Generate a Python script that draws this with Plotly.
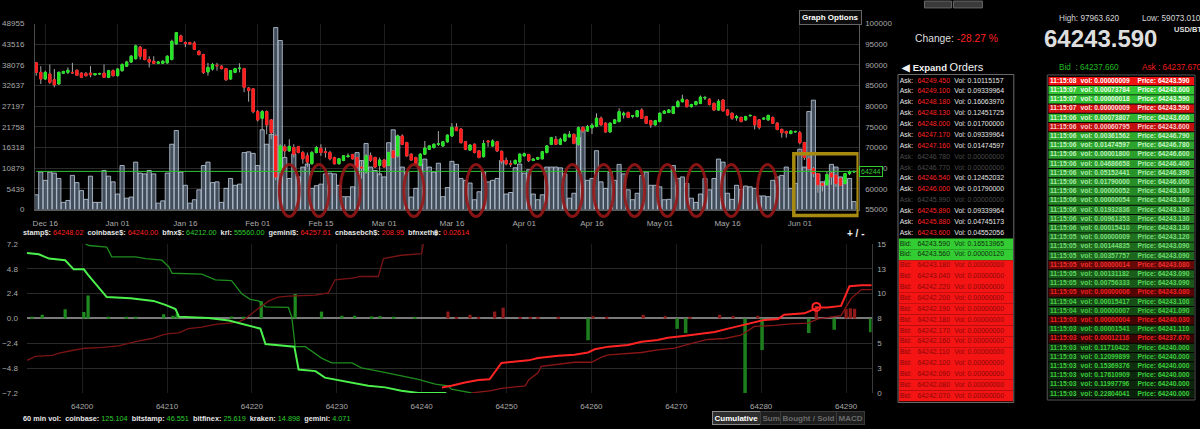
import pandas as pd
import plotly.graph_objects as go

W, H = 1200, 429
FONT = "Liberation Sans, Arial, sans-serif"


def X(p):
    return p / W


def Y(p):
    return 1 - p / H


# ---------------- top chart: daily candles (thousand USD) + volume (thousand) ----------------
start_day = "2021-12-14"
open_k = [90.5, 88.2, 86.6, 87.8, 86.4, 85.4, 88.0, 88.2, 88.2, 88.7, 88.0, 87.9, 88.0, 87.6, 87.8, 88.0, 87.0, 88.6, 87.4, 88.6,
          89.7, 90.7, 91.5, 94.3, 93.7, 91.3, 90.9, 90.4, 90.4, 90.5, 91.3, 95.1, 97.0, 95.4, 95.4, 95.3, 93.3, 92.5, 88.3, 89.0,
          89.9, 89.7, 89.1, 86.6, 88.2, 89.1, 89.1, 84.4, 84.2, 78.7, 77.1, 78.7, 76.7, 72.8, 64.1, 70.2, 69.2, 70.0, 70.2, 68.8,
          68.0, 66.1, 68.8, 69.8, 69.0, 68.8, 67.6, 66.1, 66.9, 67.8, 68.3, 67.6, 65.3, 64.1, 68.0, 67.6, 65.7, 67.0, 65.7, 69.2,
          68.0, 72.8, 71.2, 68.4, 67.6, 65.7, 68.4, 69.6, 70.0, 70.8, 70.4, 71.4, 72.8, 74.9, 74.5, 71.4, 69.4, 70.8, 69.2, 67.8,
          71.6, 70.4, 71.4, 69.1, 66.9, 66.1, 66.1, 66.5, 68.0, 68.3, 66.9, 67.2, 67.3, 68.8, 70.8, 72.0, 70.8, 71.6, 72.6, 73.2,
          70.8, 74.9, 74.0, 74.8, 75.1, 77.1, 75.9, 73.8, 75.9, 76.3, 77.9, 78.5, 77.6, 77.5, 79.1, 77.5, 76.5, 75.5, 76.3, 78.3,
          78.5, 78.3, 79.9, 81.1, 81.5, 79.9, 80.4, 80.7, 82.0, 81.7, 80.7, 79.1, 81.5, 79.1, 78.3, 77.2, 77.3, 76.7, 77.7, 77.5,
          76.7, 76.9, 76.7, 77.3, 75.9, 74.4, 73.9, 73.4, 73.8, 73.6, 71.2, 67.3, 64.9, 63.7, 61.3, 61.0, 63.8, 63.3, 62.5, 61.3,
          63.7, 64.1]
high_k = [90.7, 89.7, 88.6, 90.1, 89.0, 88.4, 88.6, 89.4, 90.5, 88.9, 88.2, 88.3, 89.7, 88.0, 88.1, 90.1, 88.8, 88.9, 89.2, 90.4,
          91.0, 92.4, 94.9, 94.6, 93.9, 92.1, 92.1, 90.9, 91.1, 92.3, 96.1, 97.96, 97.3, 95.7, 95.6, 95.7, 93.5, 92.7, 90.5, 90.5,
          90.5, 89.9, 89.3, 88.8, 89.3, 90.4, 89.3, 84.6, 84.4, 79.1, 79.1, 79.0, 76.9, 73.2, 70.8, 70.8, 72.0, 70.8, 70.4, 69.2,
          68.8, 69.2, 70.4, 70.8, 70.0, 69.2, 67.8, 67.5, 68.2, 68.6, 68.5, 67.8, 66.9, 68.4, 68.8, 67.8, 67.6, 67.2, 69.0, 69.4,
          73.2, 73.2, 71.4, 68.6, 67.8, 68.6, 71.6, 70.6, 71.0, 74.0, 71.6, 73.2, 75.9, 75.9, 74.7, 71.6, 70.8, 71.0, 69.4, 71.8,
          71.8, 72.0, 71.6, 69.3, 67.6, 66.9, 67.1, 68.6, 68.8, 68.5, 67.4, 67.8, 69.2, 70.6, 72.6, 72.8, 72.4, 73.4, 74.0, 73.4,
          75.1, 75.1, 75.5, 75.9, 78.3, 77.5, 76.1, 76.1, 76.9, 79.5, 78.7, 78.7, 77.9, 79.1, 79.5, 77.7, 76.7, 76.7, 78.5, 79.1,
          79.3, 80.1, 81.5, 82.8, 81.7, 80.6, 81.3, 82.6, 82.5, 81.9, 80.9, 81.7, 81.7, 79.3, 78.5, 77.9, 77.5, 77.7, 77.9, 77.7,
          76.9, 77.3, 77.9, 77.5, 76.1, 74.6, 74.1, 74.2, 74.1, 74.0, 71.4, 68.0, 65.3, 63.9, 61.7, 64.1, 64.1, 63.5, 62.7, 63.9,
          64.5, 64.3]
low_k = [87.4, 85.4, 86.4, 85.4, 84.6, 85.2, 87.8, 87.8, 87.8, 87.4, 86.8, 87.2, 87.0, 87.5, 87.6, 86.9, 86.8, 87.2, 87.2, 88.4,
         89.5, 90.5, 91.3, 91.3, 91.1, 89.4, 90.2, 90.2, 90.2, 90.3, 91.1, 94.9, 95.5, 94.3, 94.9, 93.6, 92.3, 87.8, 87.4, 88.6,
         88.6, 88.9, 86.2, 86.4, 88.0, 88.2, 83.4, 81.1, 78.3, 76.3, 74.4, 73.2, 72.0, 62.1, 62.9, 67.6, 69.0, 67.6, 68.6, 66.1,
         65.3, 65.9, 68.6, 68.0, 67.6, 66.9, 65.9, 65.9, 66.7, 67.6, 67.1, 64.9, 62.5, 63.7, 66.5, 65.1, 63.3, 65.1, 65.5, 67.4,
         67.6, 70.6, 67.8, 66.8, 65.9, 65.5, 68.2, 69.4, 69.8, 70.4, 70.2, 71.2, 72.6, 74.0, 71.0, 69.4, 69.2, 68.6, 67.4, 67.6,
         70.2, 70.2, 69.0, 66.1, 65.7, 65.3, 65.9, 66.3, 67.9, 66.5, 66.7, 67.0, 67.1, 68.6, 70.6, 70.6, 70.6, 71.4, 72.4, 70.8,
         70.4, 73.6, 73.8, 73.3, 74.9, 75.3, 73.6, 73.6, 75.7, 76.1, 77.0, 77.1, 77.1, 77.3, 76.9, 75.7, 74.8, 75.3, 76.1, 78.1,
         78.3, 78.1, 79.7, 80.9, 79.7, 79.7, 80.2, 80.5, 81.5, 80.2, 78.9, 78.9, 78.7, 77.7, 76.7, 76.5, 76.1, 76.5, 77.5, 74.4,
         74.4, 76.7, 76.5, 75.7, 74.2, 72.4, 72.4, 73.2, 73.6, 70.8, 67.0, 64.5, 62.9, 59.07, 59.4, 60.8, 61.0, 60.5, 60.7, 61.1,
         63.3, 64.0]
close_k = [88.2, 86.6, 88.2, 85.8, 85.2, 88.2, 88.4, 88.7, 88.1, 87.5, 87.0, 87.4, 87.6, 87.9, 87.9, 87.0, 88.6, 87.4, 89.0, 90.1,
           90.7, 92.1, 94.6, 92.1, 91.3, 90.7, 90.4, 90.7, 90.9, 92.1, 95.7, 97.8, 95.7, 95.2, 95.1, 93.8, 92.5, 88.2, 89.4, 90.1,
           89.8, 89.1, 86.4, 88.6, 89.1, 89.2, 84.6, 83.8, 78.7, 76.7, 78.7, 75.5, 73.6, 62.9, 70.4, 69.2, 70.3, 68.4, 68.8, 67.3,
           66.5, 68.8, 70.0, 68.8, 68.8, 67.3, 66.1, 67.3, 68.0, 68.0, 67.3, 65.3, 65.1, 68.0, 66.9, 65.3, 67.0, 65.3, 68.8, 67.6,
           72.8, 70.8, 68.0, 67.0, 66.1, 68.4, 69.9, 70.4, 70.8, 70.9, 71.4, 73.0, 74.9, 74.1, 71.2, 69.6, 70.6, 68.8, 67.6, 71.0,
           71.4, 71.6, 69.2, 66.7, 66.1, 66.0, 66.9, 68.4, 68.5, 66.9, 67.2, 67.6, 69.0, 70.4, 72.4, 70.8, 72.0, 73.2, 73.2, 71.0,
           74.8, 74.0, 75.1, 75.4, 77.1, 75.5, 73.8, 75.9, 76.7, 78.7, 78.3, 77.3, 77.7, 78.9, 77.1, 75.9, 75.5, 76.5, 78.3, 78.8,
           79.1, 79.9, 81.1, 81.7, 79.9, 80.4, 81.1, 82.2, 82.1, 80.4, 79.1, 81.2, 78.9, 77.9, 77.1, 77.5, 76.3, 77.5, 77.8, 75.5,
           74.9, 77.1, 77.8, 75.9, 74.4, 73.6, 73.5, 74.0, 73.9, 71.2, 67.6, 64.9, 63.7, 61.0, 60.9, 63.5, 62.9, 61.3, 60.9, 63.7,
           64.1, 64.244]
volume_k = [3.9, 9.9, 7.7, 9.9, 9.6, 8.2, 1.9, 2.4, 9.0, 7.1, 5.0, 2.7, 8.8, 1.9, 1.9, 10.3, 8.8, 7.3, 4.1, 11.6,
            3.0, 3.3, 12.5, 9.6, 9.4, 10.3, 9.4, 1.7, 2.3, 9.6, 17.2, 20.8, 9.9, 6.4, 1.7, 2.6, 5.2, 11.6, 12.5, 7.1,
            7.3, 1.9, 5.6, 8.2, 6.4, 6.7, 15.0, 15.2, 14.8, 11.6, 21.0, 17.2, 19.8, 47.9, 44.5, 13.7, 8.2, 14.6, 8.6, 11.2,
            12.0, 5.6, 6.3, 6.7, 9.4, 9.6, 9.4, 6.4, 3.4, 3.4, 6.0, 15.0, 12.9, 17.4, 11.2, 10.3, 9.4, 8.6, 17.6, 21.0,
            19.3, 11.2, 9.9, 3.3, 5.6, 12.0, 13.3, 11.2, 9.9, 12.2, 3.4, 5.8, 12.7, 11.9, 8.2, 7.7, 7.0, 2.6, 4.7, 9.9,
            7.3, 7.7, 8.2, 12.9, 4.1, 4.5, 11.0, 12.0, 9.6, 10.5, 4.1, 2.6, 3.9, 11.2, 11.2, 11.2, 11.0, 9.4, 3.0, 4.3,
            19.0, 21.0, 7.7, 8.2, 15.5, 7.3, 5.6, 9.9, 7.7, 11.9, 9.4, 5.2, 2.6, 4.3, 9.0, 9.9, 6.4, 6.4, 6.0, 2.6,
            2.7, 11.6, 8.2, 8.6, 6.9, 3.0, 1.9, 4.1, 8.2, 5.2, 8.2, 13.3, 12.5, 4.3, 2.7, 6.4, 5.3, 6.2, 6.0, 5.6,
            3.6, 3.6, 3.4, 7.7, 8.6, 9.0, 11.2, 5.6, 6.9, 15.9, 11.2, 25.8, 28.8, 9.4, 7.3, 7.7, 11.9, 11.2, 8.6, 7.7,
            8.2, 2.1]

date_ticks = ["2021-12-16", "2022-01-01", "2022-01-16", "2022-02-01", "2022-02-15", "2022-03-01",
              "2022-03-16", "2022-04-01", "2022-04-16", "2022-05-01", "2022-05-16", "2022-06-01"]
date_labels = ["Dec 16", "Jan 01", "Jan 16", "Feb 01", "Feb 15", "Mar 01",
               "Mar 16", "Apr 01", "Apr 16", "May 01", "May 16", "Jun 01"]
vol_axis_top = 48955
price_axis = [55000, 100000]
last_price_line = 64244

# hand-drawn marks on the screenshot
low_volume_days = ["2022-02-08 00:00", "2022-02-14 14:00", "2022-02-21 12:00", "2022-03-07 14:00",
                   "2022-03-21 08:00", "2022-04-03 20:00", "2022-04-11 16:00", "2022-04-18 14:00",
                   "2022-04-25 10:00", "2022-05-02 16:00", "2022-05-09 02:00", "2022-05-16 20:00",
                   "2022-05-24 20:00"]
box_days = ["2022-05-30 16:00", "2022-06-13 22:00"]

# ---------------- bottom chart: depth ----------------
bid_cum_x = [64193.5, 64194.9, 64196.1, 64198.0, 64199.0, 64200.2, 64200.7, 64202.9, 64205.7, 64207.5, 64208.4,
             64209.8, 64210.2, 64211.0, 64211.4, 64213.3, 64214.9, 64217.3, 64218.8, 64221.0, 64221.6, 64223.1,
             64225.0, 64225.5, 64227.5, 64228.6, 64230.6, 64232.2, 64233.7, 64235.7, 64237.6, 64239.6, 64242.9]
bid_cum_y = [6.32, 6.19, 5.78, 5.62, 4.74, 4.74, 4.21, 2.06, 1.94, 1.78, 1.69, 1.31, 1.18, 0.90, 0.17, 0.11, 0.05,
             -0.20, -0.51, -0.99, -2.47, -2.57, -2.73, -4.93, -5.09, -5.72, -6.03, -6.35, -6.51, -6.66, -6.98, -7.2, -7.2]
bid_sum_x = [64200.4, 64200.8, 64202.9, 64203.5, 64206.3, 64207.5, 64209.4, 64210.2, 64210.6, 64214.1, 64215.7,
             64217.6, 64218.8, 64219.8, 64220.8, 64221.6, 64224.3, 64224.7, 64225.1, 64226.3, 64228.2, 64229.4,
             64231.8, 64232.9, 64234.9, 64237.6, 64239.6, 64241.6, 64243.1, 64243.5, 64245.9]
bid_sum_y = [7.2, 7.04, 6.88, 5.94, 5.94, 5.78, 5.62, 4.99, 4.36, 4.27, 3.73, 3.64, 2.38, 1.84, 1.69, 1.12, 1.06,
             0.11, -2.73, -2.73, -3.83, -4.30, -4.30, -4.77, -5.09, -5.56, -5.88, -6.35, -6.51, -6.83, -7.2]
ask_sum_left_x = [64193.5, 64194.5, 64196.5, 64197.3, 64198.8, 64200.4, 64202.4, 64204.3, 64206.3, 64208.2, 64209.4,
                  64210.2, 64211.4, 64212.5, 64214.1, 64215.7, 64217.3, 64218.4, 64219.2, 64220.4, 64222.0, 64223.1,
                  64224.3, 64225.9, 64227.5, 64229.0, 64229.8, 64231.8, 64232.9, 64234.9, 64235.5, 64237.6, 64240.0,
                  64240.2]
ask_sum_left_y = [-4.05, -3.67, -3.58, -3.36, -3.10, -2.88, -2.79, -2.66, -2.25, -1.94, -1.62, -1.47, -1.40, -0.99,
                  -0.84, -0.58, -0.46, -0.36, -0.05, 0.74, 1.69, 2.06, 2.16, 2.22, 2.25, 2.47, 3.73, 3.89, 4.05, 4.05,
                  5.78, 6.10, 6.25, 7.2]
ask_cum_x = [64242.4, 64243.5, 64245.1, 64246.7, 64248.0, 64249.4, 64250.2, 64252.6, 64253.7, 64256.1, 64258.0,
             64259.6, 64260.4, 64262.0, 64264.3, 64265.9, 64267.8, 64269.0, 64270.6, 64272.9, 64274.5, 64276.1,
             64277.6, 64279.2, 64280.4, 64282.0, 64282.7, 64283.9, 64285.1, 64286.7, 64287.8, 64289.4, 64290.4,
             64291.8, 64293.1]
ask_cum_y = [0.56, 0.72, 1.05, 1.31, 1.38, 3.02, 3.09, 3.28, 3.51, 3.74, 3.84, 4.07, 4.40, 4.66, 4.82, 5.15, 5.32,
             5.55, 5.71, 5.97, 6.14, 6.47, 6.79, 7.12, 7.35, 7.45, 7.88, 7.94, 8.01, 8.60, 8.60, 8.76, 10.73, 10.83,
             10.83]
ask_sum_x = [64245.9, 64248.2, 64249.4, 64252.2, 64252.6, 64253.7, 64254.1, 64256.1, 64258.0, 64260.0, 64261.2,
             64262.0, 64265.9, 64267.8, 64269.8, 64271.8, 64273.7, 64275.7, 64277.6, 64279.2, 64281.6, 64283.5,
             64284.7, 64285.5, 64286.7, 64288.2, 64289.4, 64290.6, 64291.8, 64293.1]
ask_sum_y = [0, 0.23, 0.46, 0.72, 1.31, 2.03, 2.69, 2.86, 3.09, 3.09, 3.61, 3.84, 4.07, 4.33, 4.50, 4.99, 5.38,
             5.48, 5.81, 6.70, 6.79, 6.96, 6.96, 7.02, 7.45, 7.61, 7.78, 9.52, 10.40, 10.40]
buy_bar_x = [64194.1, 64195.3, 64198.0, 64200.2, 64200.7, 64203.1, 64205.2, 64206.3, 64209.6, 64210.7, 64211.2,
             64217.6, 64219.0, 64221.1, 64225.1, 64228.2, 64230.6, 64232.1, 64234.1, 64235.1, 64236.7, 64239.2]
buy_bar_y = [0.1, 0.35, 0.88, 0.63, 2.21, 0.06, 0.13, 0.1, 0.41, 0.25, 0.47, 0.19, 0.16, 1.67, 2.36, 0.66, 0.25,
             0.25, 0.19, 0.22, 0.16, 0.13]
sold_bar_x = [64259.6, 64270.1, 64271.1, 64278.1, 64280.1, 64285.6, 64288.6, 64292.9]
sold_bar_y = [-2.20, -1.05, -1.48, -7.5, -3.18, -1.48, -1.15, -1.38]
ask_bar_x = [64243.1, 64244.1, 64245.7, 64246.7, 64248.6, 64249.6, 64251.6, 64252.8, 64253.7, 64256.1, 64260.2,
             64261.8, 64266.1, 64268.7, 64271.6, 64275.1, 64276.7, 64279.6, 64286.5, 64290.0, 64290.5, 64291.0]
ask_bar_y = [0.69, 0.16, 0.36, 0.1, 0.69, 1.08, 0.13, 0.1, 0.16, 0.16, 0.23, 0.16, 0.36, 0.23, 0.16, 0.36, 0.23,
             0.26, 1.25, 0.92, 1.02, 0.98]
hover_point = [64286.5, 8.66]

# ---------------- order book ----------------
ask_prices = [64249.450, 64249.100, 64248.180, 64248.130, 64248.000, 64247.170, 64247.160, 64246.780,
              64246.770, 64246.540, 64246.000, 64245.990, 64245.890, 64245.880, 64243.600]
ask_vols = [0.10115157, 0.09339964, 0.16063970, 0.12451725, 0.01700000, 0.09339964, 0.01474597, 0.0,
            0.0, 0.12452032, 0.01790000, 0.0, 0.09339964, 0.04745173, 0.04552056]
bid_prices = [64243.590, 64243.560, 64243.180, 64243.040, 64242.220, 64242.200, 64242.190, 64242.180,
              64242.170, 64242.160, 64242.110, 64242.100, 64242.090, 64242.080, 64242.070]
bid_vols = [0.16513965, 0.00000120] + [0.0] * 13

# ---------------- trades ----------------
trade_times = ["11:15:08", "11:15:07", "11:15:07", "11:15:07", "11:15:06", "11:15:06", "11:15:06", "11:15:06",
               "11:15:06", "11:15:06", "11:15:06", "11:15:06", "11:15:06", "11:15:06", "11:15:06", "11:15:06",
               "11:15:06", "11:15:05", "11:15:05", "11:15:05", "11:15:05", "11:15:05", "11:15:05", "11:15:05",
               "11:15:04", "11:15:04", "11:15:03", "11:15:03", "11:15:03", "11:15:03", "11:15:03", "11:15:03",
               "11:15:03", "11:15:03", "11:15:03"]
trade_vols = [0.00000009, 0.00073784, 0.00000018, 0.00000009, 0.00073807, 0.00060795, 0.00361562, 0.01474597,
              0.00001800, 0.04686658, 0.05152441, 0.01790000, 0.00000052, 0.00000054, 0.01932836, 0.00961353,
              0.00015410, 0.00000009, 0.00144835, 0.00357757, 0.00000014, 0.00131182, 0.00756333, 0.00000006,
              0.00015417, 0.00000007, 0.00000004, 0.00001541, 0.00012116, 0.11710422, 0.12099899, 0.15369376,
              0.17610909, 0.11997796, 0.22804041]
trade_prices = [64243.590, 64243.600, 64243.590, 64243.590, 64243.600, 64243.600, 64246.790, 64246.780,
                64246.600, 64246.400, 64246.390, 64246.000, 64243.160, 64243.160, 64243.130, 64243.130,
                64243.130, 64243.120, 64243.090, 64243.090, 64243.080, 64243.090, 64243.090, 64243.080,
                64243.100, 64241.090, 64240.030, 64241.110, 64237.670, 64240.000, 64240.000, 64240.000,
                64240.000, 64240.000, 64240.000]
trade_sell = [1, 0, 0, 1, 0, 1, 0, 0, 0, 0, 0, 0, 0, 0, 0, 0, 0, 0, 0, 0, 1, 0, 0, 1, 0, 0, 1, 0, 1, 0, 0, 0, 0, 0, 0]

# ---------------- ticker texts ----------------
high_24h, low_24h = 97963.620, 59073.010
last_price = 64243.590
change_pct = -28.27
best_bid, best_ask = 64237.660, 64237.670
ex_names = ["stamp$", "coinbase$", "bfnx$", "krl", "gemini$", "cnbasebch$", "bfnxeth฿"]
ex_values = ["64248.02", "64240.00", "64212.00", "55560.00", "64257.61", "208.95", "0.02614"]
ex_up = [0, 0, 1, 1, 0, 0, 0]
vol60_names = ["coinbase", "bitstamp", "bitfinex", "kraken", "gemini"]
vol60_values = [125.104, 46.551, 25.619, 14.898, 4.071]
buttons = ["Cumulative", "Sum", "Bought / Sold", "MACD"]

UP, DN, WICK = "#22e622", "#ff1c1c", "#a8a8a8"
GREEN, RED = "#2ecc2e", "#ff2020"


def mix(a, b, t):
    ca = [int(a[i:i + 2], 16) for i in (1, 3, 5)]
    cb = [int(b[i:i + 2], 16) for i in (1, 3, 5)]
    return "rgb(%d,%d,%d)" % tuple(round(ca[k] + (cb[k] - ca[k]) * t) for k in range(3))


days = pd.date_range(start_day, periods=len(close_k), freq="D")
opens = [v * 1000 for v in open_k]
highs = [v * 1000 for v in high_k]
lows = [v * 1000 for v in low_k]
closes = [v * 1000 for v in close_k]
vols = [v * 1000 for v in volume_k]

fig = go.Figure()

fig.add_trace(go.Bar(x=days, y=vols, xaxis="x", yaxis="y",
                     marker=dict(color="rgba(120,140,162,0.55)",
                                 line=dict(color="rgba(190,205,222,0.8)", width=1)),
                     hoverinfo="skip"))
fig.add_trace(go.Candlestick(x=days, open=opens, high=highs, low=lows, close=closes,
                             xaxis="x", yaxis="y2", whiskerwidth=0,
                             increasing=dict(line=dict(color=WICK, width=1), fillcolor=WICK),
                             decreasing=dict(line=dict(color=WICK, width=1), fillcolor=WICK),
                             hoverinfo="skip"))
fig.add_trace(go.Candlestick(x=days, open=opens, close=closes,
                             high=[max(a, b) for a, b in zip(opens, closes)],
                             low=[min(a, b) for a, b in zip(opens, closes)],
                             xaxis="x", yaxis="y2", whiskerwidth=0,
                             increasing=dict(line=dict(color=UP, width=1), fillcolor=UP),
                             decreasing=dict(line=dict(color=DN, width=1), fillcolor=DN),
                             hoverinfo="skip"))
fig.add_trace(go.Scatter(x=[days[0], days[-1] + pd.Timedelta(days=1)], y=[last_price_line] * 2,
                         xaxis="x", yaxis="y2", mode="lines",
                         line=dict(color="#2fc42f", width=1), hoverinfo="skip"))

# depth chart
fig.add_trace(go.Bar(x=buy_bar_x, y=buy_bar_y, width=0.38, xaxis="x2", yaxis="y3",
                     marker=dict(color="#1f8a1f", line=dict(width=0))))
fig.add_trace(go.Bar(x=sold_bar_x, y=sold_bar_y, base=7.5, width=0.42, xaxis="x2", yaxis="y4",
                     marker=dict(color="#1c7e1c", line=dict(width=0))))
fig.add_trace(go.Bar(x=ask_bar_x, y=ask_bar_y, base=7.5, width=0.38, xaxis="x2", yaxis="y4",
                     marker=dict(color="#8e1a1a", line=dict(width=0))))
fig.add_trace(go.Scatter(x=bid_sum_x, y=bid_sum_y, xaxis="x2", yaxis="y3", mode="lines",
                         line=dict(color="#1e8c1e", width=1.3)))
fig.add_trace(go.Scatter(x=ask_sum_left_x, y=ask_sum_left_y, xaxis="x2", yaxis="y3", mode="lines",
                         line=dict(color="#7a1414", width=1.3)))
fig.add_trace(go.Scatter(x=bid_cum_x, y=bid_cum_y, xaxis="x2", yaxis="y3", mode="lines",
                         line=dict(color="#4cf04c", width=2)))
fig.add_trace(go.Scatter(x=ask_sum_x, y=ask_sum_y, xaxis="x2", yaxis="y4", mode="lines",
                         line=dict(color="#8a1616", width=1.3)))
fig.add_trace(go.Scatter(x=ask_cum_x, y=ask_cum_y, xaxis="x2", yaxis="y4", mode="lines",
                         line=dict(color="#ff2424", width=2)))
fig.add_trace(go.Scatter(x=[hover_point[0]], y=[hover_point[1]], xaxis="x2", yaxis="y4", mode="markers",
                         marker=dict(size=8, color="rgba(0,0,0,0)", line=dict(color="#ff2424", width=2))))

# order book rows
book_n = len(ask_prices) + len(bid_prices)
book_rows = list(range(book_n))
book_bg, c_lab, c_px, c_vol, t_lab, t_px, t_vol = [], [], [], [], [], [], []
for p, v in zip(ask_prices, ask_vols):
    t_lab.append("Ask:")
    t_px.append("%.3f" % p)
    t_vol.append("Vol: %.8f" % v)
    book_bg.append("#000000")
    if v > 0:
        c_lab.append("#e6e6e6"); c_px.append("#ff2222"); c_vol.append("#e6e6e6")
    else:
        c_lab.append("#4a4a4a"); c_px.append("#4a4a4a"); c_vol.append("#4a4a4a")
for p, v in zip(bid_prices, bid_vols):
    t_lab.append("Bid:")
    t_px.append("%.3f" % p)
    t_vol.append("Vol: %.8f" % v)
    if v > 0:
        book_bg.append("#33cc33"); col = "#103010"
    else:
        book_bg.append("#f41414"); col = "#8a0808"
    c_lab.append(col); c_px.append(col); c_vol.append(col)

fig.add_trace(go.Bar(x=[1] * book_n, y=book_rows, base=0, width=1, orientation="h", xaxis="x3", yaxis="y5",
                     marker=dict(color=book_bg, line=dict(width=0)), hoverinfo="skip"))
for xs, txt, col in [(0.01, t_lab, c_lab), (0.165, t_px, c_px), (0.485, t_vol, c_vol)]:
    fig.add_trace(go.Scatter(x=[xs] * book_n, y=book_rows, text=txt, mode="text", textposition="middle right",
                             textfont=dict(family=FONT, size=6.9, color=col), xaxis="x3", yaxis="y5",
                             cliponaxis=False, hoverinfo="skip"))

# trade rows, fading with age
trade_n = len(trade_times)
trade_rows = list(range(trade_n))
tr_bg, tr_col = [], []
for i, s in enumerate(trade_sell):
    t = i / (trade_n - 1)
    if s:
        tr_bg.append(mix("#ee1212", "#1c0202", t ** 0.8))
        tr_col.append(mix("#ffffff", "#ee2020", min(1, t * 1.6)))
    else:
        tr_bg.append(mix("#36cc36", "#0b200b", t ** 0.9))
        tr_col.append(mix("#f4fff4", "#3acc3a", min(1, t * 1.3)))
fig.add_trace(go.Bar(x=[1] * trade_n, y=trade_rows, base=0, width=0.9, orientation="h", xaxis="x4", yaxis="y6",
                     marker=dict(color=tr_bg, line=dict(width=0)), hoverinfo="skip"))
for xs, txt in [(0.012, trade_times), (0.222, ["vol: %.8f" % v for v in trade_vols]),
                (0.612, ["Price: %.3f" % p for p in trade_prices])]:
    fig.add_trace(go.Scatter(x=[xs] * trade_n, y=trade_rows, text=txt, mode="text", textposition="middle right",
                             textfont=dict(family=FONT, size=6.7, color=tr_col, weight="bold"),
                             xaxis="x4", yaxis="y6", cliponaxis=False, hoverinfo="skip"))

# ---------------- layout ----------------
tick_font = dict(family=FONT, size=8, color="#a9a9a9")
day = pd.Timedelta(days=1)
shapes = []
for d in low_volume_days:
    c = pd.Timestamp(d)
    shapes.append(dict(type="circle", xref="x", yref="paper", x0=c - 2.2 * day, x1=c + 2.2 * day,
                       y0=Y(217), y1=Y(164), line=dict(color="rgba(150,22,22,0.9)", width=3), layer="above"))
shapes.append(dict(type="rect", xref="x", yref="paper", x0=box_days[0], x1=box_days[1], y0=Y(216), y1=Y(153),
                   line=dict(color="#a88a10", width=3.5), layer="above"))
shapes.append(dict(type="rect", xref="paper", yref="paper", x0=X(897.5), x1=X(1013.5), y0=Y(407), y1=Y(72),
                   line=dict(color="#6a6a6a", width=1)))
shapes.append(dict(type="rect", xref="paper", yref="paper", x0=X(1047), x1=X(1195), y0=Y(404.5), y1=Y(72.5),
                   line=dict(color="#555555", width=1)))
for a, b in [(924, 951), (953, 982)]:
    shapes.append(dict(type="rect", xref="paper", yref="paper", x0=X(a), x1=X(b), y0=Y(4), y1=Y(-3),
                       fillcolor="#3a3a3a", line=dict(color="#6a6a6a", width=1)))

ex_text = "&nbsp;&nbsp;".join("<b>%s:</b> <span style='color:%s'>%s</span>" % (n, GREEN if u else RED, v)
                              for n, v, u in zip(ex_names, ex_values, ex_up))
vol_text = "<b>60 min vol:</b>&nbsp;&nbsp;" + "&nbsp;&nbsp;".join(
    "<b>%s:</b> <span style='color:%s'>%s</span>" % (n, GREEN, v) for n, v in zip(vol60_names, vol60_values))

ann = [
    dict(x=X(1057), y=Y(15), text="High: %.3f" % high_24h, xanchor="left", font=dict(size=8.2, color="#d6d6d6")),
    dict(x=X(1140), y=Y(15), text="Low: %.3f" % low_24h, xanchor="left", font=dict(size=8.2, color="#d6d6d6")),
    dict(x=X(1100), y=Y(35.5), text="<b>%.3f</b>" % last_price, xanchor="center",
         font=dict(size=24, color="#dedede")),
    dict(x=X(1172), y=Y(26), text="<b>USD/BTC</b>", xanchor="left", font=dict(size=7.5, color="#dedede")),
    dict(x=X(956), y=Y(35), text="Change: <span style='color:%s'>%.2f %%</span>" % (RED, change_pct),
         xanchor="center", font=dict(size=10.3, color="#dedede")),
    dict(x=X(898), y=Y(64), text="<b>◀ Expand</b> <span style='font-size:11px'>Orders</span>", xanchor="left",
         font=dict(size=9.5, color="#f0f0f0")),
    dict(x=X(1057), y=Y(65), text="Bid  : %.3f" % best_bid, xanchor="left", font=dict(size=8.2, color="#1fb81f")),
    dict(x=X(1140), y=Y(65), text="Ask : %.3f" % best_ask, xanchor="left", font=dict(size=8.2, color="#ee1c1c")),
    dict(x=X(830), y=Y(14), text="<b>Graph Options</b>", xanchor="center", font=dict(size=8, color="#ffffff"),
         bgcolor="#0c0c0c", bordercolor="#666666", borderwidth=1, borderpad=2),
    dict(x=X(19), y=Y(233), text=ex_text, xanchor="left", font=dict(size=7.3, color="#e6e6e6")),
    dict(x=X(855), y=Y(234), text="<b>+ / -</b>", xanchor="center", font=dict(size=10, color="#f0f0f0")),
    dict(x=X(19), y=Y(423), text=vol_text, xanchor="left", font=dict(size=7.3, color="#e6e6e6")),
    dict(x=X(858), y=last_price_line, xref="paper", yref="y2", text="%d" % last_price_line, xanchor="left",
         font=dict(size=7, color="#33cc33"), bgcolor="#000000", bordercolor="#33cc33", borderwidth=1,
         borderpad=1),
]
for name, cx in zip(buttons, [735.5, 770, 807.5, 849.5]):
    active = name == buttons[0]
    ann.append(dict(x=X(cx), y=Y(423), text="<b>%s</b>" % name, xanchor="center",
                    font=dict(size=8, color="#ffffff" if active else "#6a6a6a"),
                    bgcolor="#2e2e2e" if active else "#1e1e1e",
                    bordercolor="#8a8a8a" if active else "#3a3a3a", borderwidth=1, borderpad=1.5))
for a in ann:
    a.setdefault("xref", "paper")
    a.setdefault("yref", "paper")
    a["showarrow"] = False
    a["yanchor"] = "middle"
    a["font"].setdefault("family", FONT)

hidden = dict(visible=False, fixedrange=True, showgrid=False, zeroline=False)
fig.update_layout(
    width=W, height=H, margin=dict(l=0, r=0, t=0, b=0),
    paper_bgcolor="#000000", plot_bgcolor="#000000",
    showlegend=False, bargap=0.08, barmode="overlay", hovermode=False,
    font=dict(family=FONT, color="#a9a9a9"),
    xaxis=dict(domain=[X(33), X(858)], range=["2021-12-13 17:00", "2022-06-14 00:00"], anchor="y",
               tickvals=date_ticks, ticktext=date_labels, tickfont=tick_font, ticks="", ticklabelstandoff=6,
               showgrid=True, gridcolor="#1d1d1d", showline=True, linecolor="#5a5a5a", zeroline=False,
               rangeslider=dict(visible=False)),
    yaxis=dict(domain=[Y(210), Y(20)], range=[0, vol_axis_top], anchor="x",
               tickvals=[vol_axis_top * i / 9 for i in range(10)], tickformat=".0f", tickfont=tick_font,
               ticks="", ticklabelstandoff=8, gridcolor="#2a2a2a", showline=True, linecolor="#4a4a4a",
               zeroline=False),
    yaxis2=dict(overlaying="y", side="right", anchor="x", range=price_axis, tick0=price_axis[0], dtick=5000,
                tickformat="d", tickfont=tick_font, ticks="", ticklabelstandoff=4, showgrid=False,
                showline=True, linecolor="#5a5a5a", zeroline=False),
    xaxis2=dict(domain=[X(25), X(871)], range=[64193.5, 64293.0], anchor="y3", tick0=64200, dtick=10,
                tickformat="d", tickfont=tick_font, ticks="", ticklabelstandoff=7, showgrid=True,
                gridcolor="#1d1d1d", zeroline=False),
    yaxis3=dict(domain=[Y(397.3), Y(245)], range=[-7.2, 7.2], anchor="x2",
                tickvals=[-7.2, -4.8, -2.4, 0, 2.4, 4.8, 7.2], tickformat=".1f", tickfont=tick_font, ticks="",
                ticklabelstandoff=8, gridcolor="#2a2a2a", zeroline=True, zerolinecolor="#7a7a7a",
                zerolinewidth=1.5),
    yaxis4=dict(overlaying="y3", side="right", anchor="x2", range=[0, 15],
                tickvals=[0, 2.5, 5, 7.5, 10, 12.5, 15], tickformat=".0f", tickfont=tick_font, ticks="",
                ticklabelstandoff=3, showgrid=False, zeroline=False, showline=True, linecolor="#3a3a3a"),
    xaxis3=dict(domain=[X(898), X(1013)], range=[0, 1], anchor="y5", **hidden),
    yaxis5=dict(domain=[Y(406), Y(73)], range=[book_n - 0.5, -0.5], anchor="x3", **hidden),
    xaxis4=dict(domain=[X(1048), X(1194)], range=[0, 1], anchor="y6", **hidden),
    yaxis6=dict(domain=[Y(403), Y(74)], range=[trade_n - 0.5, -0.5], anchor="x4", **hidden),
    shapes=shapes, annotations=ann,
)

fig.write_html("out.html", config={"displayModeBar": False},
               post_script="document.body.style.margin='0px';document.body.style.overflow='hidden';")
